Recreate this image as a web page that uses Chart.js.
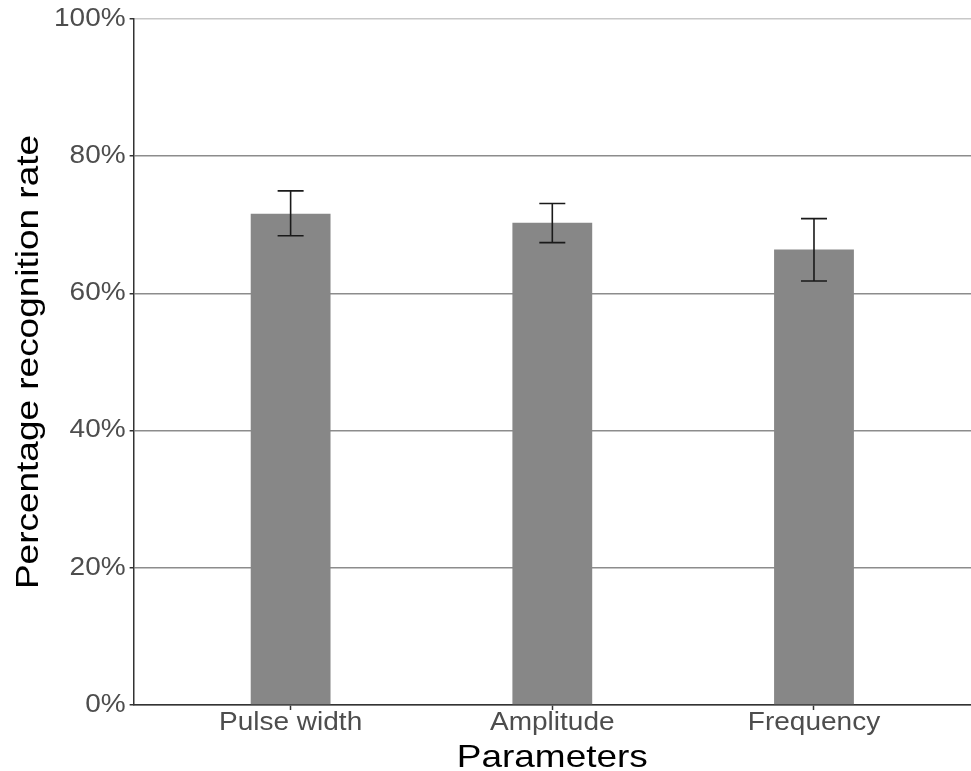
<!DOCTYPE html>
<html>
<head>
<meta charset="utf-8">
<script src="https://cdn.jsdelivr.net/npm/chart.js@4"></script>
<style>
  html, body { margin: 0; padding: 0; background: #fff; overflow: hidden; }
  #wrap { position: relative; width: 971px; height: 771px; }
</style>
</head>
<body>
<div id="wrap"><canvas id="chart"></canvas></div>
<script>
// values (percent)
const categories = ['Pulse width', 'Amplitude', 'Frequency'];
const positions = [1, 2, 3];
const rates = [71.6, 70.3, 66.4];
const errLow = [68.4, 67.4, 61.8];
const errHigh = [74.95, 73.1, 70.9];
const yTicks = [0, 20, 40, 60, 80, 100];

const FONT = "'Liberation Sans', Arial, Helvetica, sans-serif";

const ctx = document.getElementById('chart').getContext('2d');

// the original text is an Arial-like face drawn wider than Liberation Sans,
// so stretch glyphs sideways (titles a little more than tick labels)
const proto = CanvasRenderingContext2D.prototype;
function stretchFor(c) {
    const m = /(\d+(?:\.\d+)?)px/.exec(c.font);
    return m && parseFloat(m[1]) >= 30 ? 1.155 : 1.12;
}
ctx.fillText = function (text, x, y, maxWidth) {
    const sx = stretchFor(this);
    this.save();
    this.translate(x, y);
    this.scale(sx, 1);
    if (maxWidth !== undefined) proto.fillText.call(this, text, 0, 0, maxWidth / sx);
    else proto.fillText.call(this, text, 0, 0);
    this.restore();
};
ctx.measureText = function (text) {
    const m = proto.measureText.call(this, text);
    const sx = stretchFor(this);
    return {
        width: m.width * sx,
        actualBoundingBoxLeft: m.actualBoundingBoxLeft * sx,
        actualBoundingBoxRight: m.actualBoundingBoxRight * sx,
        actualBoundingBoxAscent: m.actualBoundingBoxAscent,
        actualBoundingBoxDescent: m.actualBoundingBoxDescent
    };
};

// error bars drawn with the chart's own scales
const errorBars = {
    id: 'errorBars',
    afterDatasetsDraw(chart) {
        const c = chart.ctx;
        const xs = chart.scales.x;
        const ys = chart.scales.y;
        c.save();
        c.strokeStyle = '#1a1a1a';
        c.lineWidth = 1.6;
        positions.forEach((p, i) => {
            const x = xs.getPixelForValue(p);
            const top = ys.getPixelForValue(errHigh[i]);
            const bot = ys.getPixelForValue(errLow[i]);
            const half = 13;
            c.beginPath();
            c.moveTo(x, top); c.lineTo(x, bot);
            c.moveTo(x - half, top); c.lineTo(x + half, top);
            c.moveTo(x - half, bot); c.lineTo(x + half, bot);
            c.stroke();
        });
        c.restore();
    }
};

new Chart(ctx, {
    type: 'bar',
    data: {
        datasets: [{
            data: positions.map((p, i) => ({ x: p, y: rates[i] })),
            backgroundColor: '#878787',
            borderWidth: 0,
            categoryPercentage: 1,
            barPercentage: 0.305
        }]
    },
    options: {
        responsive: true,
        maintainAspectRatio: false,
        animation: false,
        layout: { padding: { top: 19, right: 0, bottom: -3, left: 10 } },
        plugins: {
            legend: { display: false },
            tooltip: { enabled: false }
        },
        scales: {
            x: {
                type: 'linear',
                min: 0.4,
                max: 3.6,
                offset: false,
                afterBuildTicks: axis => { axis.ticks = positions.map(v => ({ value: v })); },
                ticks: {
                    callback: v => categories[positions.indexOf(v)] || '',
                    color: '#4d4d4d',
                    font: { family: FONT, size: 25, lineHeight: 1 },
                    padding: 1,
                    maxRotation: 0,
                    autoSkip: false
                },
                grid: {
                    offset: false,
                    drawOnChartArea: false,
                    drawTicks: true,
                    tickLength: 5,
                    tickColor: '#333',
                    tickWidth: 1.5
                },
                border: { display: true, color: '#333', width: 1.5 },
                title: {
                    display: true,
                    text: 'Parameters',
                    color: '#000',
                    font: { family: FONT, size: 32, lineHeight: 1 },
                    padding: { top: 5, bottom: 0 }
                }
            },
            y: {
                min: 0,
                max: 100,
                afterBuildTicks: axis => { axis.ticks = yTicks.map(v => ({ value: v })); },
                ticks: {
                    callback: v => v + '%',
                    color: '#4d4d4d',
                    font: { family: FONT, size: 25, lineHeight: 1 },
                    padding: 4
                },
                grid: {
                    color: c => c.tick && c.tick.value === 100 ? '#c8c8c8' : '#8c8c8c',
                    lineWidth: 1.5,
                    tickLength: 4,
                    tickColor: '#333',
                    tickWidth: 1.5
                },
                border: { display: true, color: '#333', width: 1.5 },
                title: {
                    display: true,
                    text: 'Percentage recognition rate',
                    color: '#000',
                    font: { family: FONT, size: 32, lineHeight: 1 },
                    padding: { top: 3, bottom: 5 }
                }
            }
        }
    },
    plugins: [errorBars]
});
</script>
</body>
</html>
